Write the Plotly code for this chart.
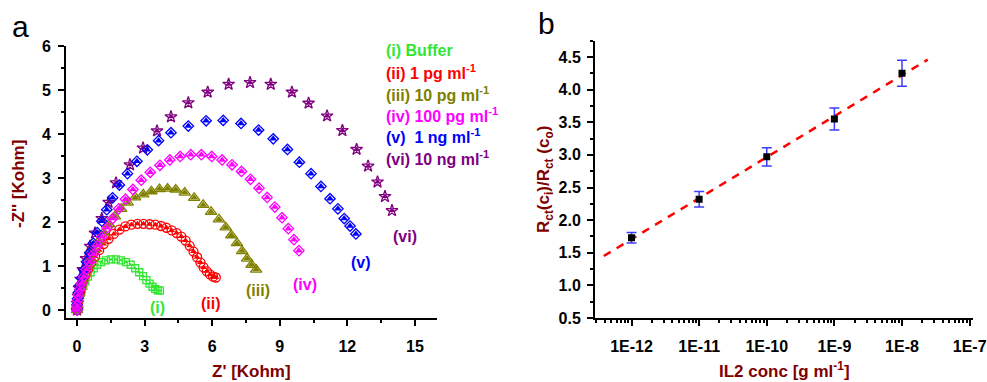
import plotly.graph_objects as go

# ---------------- Panel a : Nyquist data (Z' , -Z'') in kOhm ----------------
buf_x = [0, 0.02, 0.05, 0.09, 0.14, 0.2, 0.28, 0.37, 0.48, 0.6, 0.74, 0.9, 1.08, 1.28, 1.5, 1.72,
         1.95, 2.17, 2.38, 2.58, 2.76, 2.93, 3.08, 3.22, 3.35, 3.47, 3.58, 3.68]
buf_y = [0, 0.08, 0.17, 0.26, 0.35, 0.45, 0.55, 0.65, 0.76, 0.86, 0.95, 1.03, 1.09, 1.13, 1.15, 1.15,
         1.13, 1.09, 1.03, 0.95, 0.86, 0.77, 0.68, 0.6, 0.53, 0.48, 0.45, 0.44]

p1_x = [0, 0.02, 0.05, 0.09, 0.14, 0.2, 0.28, 0.38, 0.5, 0.64, 0.8, 0.98, 1.18, 1.4, 1.63, 1.88,
        2.14, 2.41, 2.68, 2.95, 3.22, 3.48, 3.73, 3.97, 4.2, 4.42, 4.63, 4.82, 5.0, 5.17, 5.33,
        5.48, 5.62, 5.76, 5.9, 6.04, 6.16]
p1_y = [0, 0.1, 0.2, 0.31, 0.42, 0.54, 0.67, 0.8, 0.94, 1.08, 1.22, 1.36, 1.5, 1.62, 1.73, 1.83,
        1.9, 1.94, 1.96, 1.96, 1.95, 1.94, 1.91, 1.87, 1.81, 1.75, 1.67, 1.58, 1.46, 1.33, 1.2,
        1.08, 0.97, 0.88, 0.81, 0.76, 0.74]

p10_x = [0, 0.02, 0.05, 0.1, 0.16, 0.24, 0.34, 0.46, 0.6, 0.77, 0.96, 1.18, 1.42, 1.68, 1.96,
         2.25, 2.58, 2.94, 3.3, 3.66, 4.02, 4.38, 4.78, 5.2, 5.6, 5.95, 6.3, 6.6, 6.85, 7.1,
         7.33, 7.55, 7.75, 7.95]
p10_y = [0, 0.12, 0.25, 0.38, 0.52, 0.67, 0.83, 1.0, 1.18, 1.37, 1.56, 1.76, 1.95, 2.13, 2.3,
         2.44, 2.56, 2.63, 2.7, 2.75, 2.76, 2.74, 2.67, 2.55, 2.39, 2.23, 2.06, 1.88, 1.7, 1.52,
         1.34, 1.17, 1.03, 0.92]

p100_x = [0, 0.0, 0.02, 0.06, 0.12, 0.2, 0.3, 0.42, 0.56, 0.72, 0.9, 1.1, 1.33, 1.58, 1.85, 2.15,
          2.48, 2.85, 3.25, 3.68, 4.12, 4.58, 5.05, 5.52, 5.98, 6.44, 6.88, 7.3, 7.7, 8.08, 8.44,
          8.78, 9.1, 9.38, 9.63, 9.85]
p100_y = [0, 0.1, 0.22, 0.34, 0.47, 0.61, 0.76, 0.92, 1.09, 1.27, 1.46, 1.66, 1.87, 2.08, 2.3, 2.52,
          2.74, 2.95, 3.13, 3.29, 3.41, 3.49, 3.53, 3.53, 3.49, 3.41, 3.3, 3.15, 2.97, 2.77, 2.56,
          2.34, 2.1, 1.85, 1.6, 1.35]

n1_x = [0, 0.0, 0.02, 0.06, 0.12, 0.2, 0.3, 0.42, 0.56, 0.72, 0.9, 1.1, 1.32, 1.58, 1.88, 2.24,
        2.66, 3.12, 3.62, 4.17, 4.94, 5.73, 6.49, 7.28, 8.06, 8.71, 9.34, 9.87, 10.39, 10.83,
        11.23, 11.58, 11.86, 12.12, 12.38]
n1_y = [0, 0.12, 0.26, 0.4, 0.56, 0.73, 0.91, 1.1, 1.3, 1.52, 1.76, 2.02, 2.28, 2.55, 2.84, 3.1,
        3.38, 3.64, 3.85, 4.03, 4.18, 4.3, 4.31, 4.24, 4.09, 3.89, 3.65, 3.36, 3.1, 2.81,
        2.53, 2.3, 2.08, 1.91, 1.73]

n10_x = [0, 0.01, 0.04, 0.09, 0.16, 0.26, 0.4, 0.58, 0.8, 1.1, 1.4, 1.73, 2.35, 2.93, 3.55, 4.17,
         4.94, 5.8, 6.73, 7.68, 8.6, 9.54, 10.28, 11.1, 11.78, 12.41, 12.92, 13.34, 13.67, 13.98]
n10_y = [0, 0.15, 0.32, 0.5, 0.7, 0.92, 1.17, 1.45, 1.75, 2.08, 2.45, 2.89, 3.3, 3.68, 4.07, 4.39,
         4.71, 4.95, 5.13, 5.17, 5.13, 4.95, 4.7, 4.41, 4.08, 3.65, 3.27, 2.91, 2.58, 2.26]

legend_labels = ["(i) Buffer", "(ii) 1 pg ml<sup>-1</sup>", "(iii) 10 pg ml<sup>-1</sup>",
                 "(iv) 100 pg ml<sup>-1</sup>", "(v)  1 ng ml<sup>-1</sup>", "(vi) 10 ng ml<sup>-1</sup>"]
curve_tags = ["(i)", "(ii)", "(iii)", "(iv)", "(v)", "(vi)"]
tag_x = [3.55, 5.95, 8.03, 10.12, 12.6, 14.56]
tag_y = [0.07, 0.14, 0.45, 0.57, 1.09, 1.68]

# ---------------- Panel b : calibration ----------------
conc = [1e-12, 1e-11, 1e-10, 1e-9, 1e-8]
ratio = [1.73, 2.32, 2.97, 3.55, 4.25]
ratio_err = [0.08, 0.12, 0.14, 0.17, 0.2]
fit_x = [10 ** -12.41, 10 ** -7.62]
fit_y = [1.45, 4.46]
b_tickvals = [1e-12, 1e-11, 1e-10, 1e-9, 1e-8, 1e-7]
b_ticktext = ["1E-12", "1E-11", "1E-10", "1E-9", "1E-8", "1E-7"]
b_minor = [k * 10.0 ** e for e in range(-13, -7) for k in range(2, 10)]

FONT = "Liberation Sans, Arial, sans-serif"
GREEN, RED, OLIVE, MAG, BLUE, PURP = "#33e633", "#ff0000", "#808000", "#ff00ff", "#0000ff", "#800080"
DARKRED = "#800000"

fig = go.Figure()

series = [
    (n10_x, n10_y, PURP, "star", 9, 6),
    (buf_x, buf_y, GREEN, "square", 7, 4),
    (p1_x, p1_y, RED, "circle", 9, 6),
    (p10_x, p10_y, OLIVE, "triangle-up", 10, 7),
    (n1_x, n1_y, BLUE, "diamond", 8, 7),
    (p100_x, p100_y, MAG, "diamond", 8, 7),
]
for xs, ys, col, sym, sz, insz in series:
    fig.add_trace(go.Scatter(x=xs, y=ys, mode="markers", xaxis="x", yaxis="y",
                             marker=dict(symbol=sym + "-open", size=sz, color=col,
                                         line=dict(width=1.3, color=col)),
                             showlegend=False, hoverinfo="skip"))
    fig.add_trace(go.Scatter(x=xs, y=ys, mode="markers", xaxis="x", yaxis="y",
                             marker=dict(symbol="triangle-up", size=insz, color=col,
                                         line=dict(width=0)),
                             showlegend=False, hoverinfo="skip"))

# panel b traces
fig.add_trace(go.Scatter(x=fit_x, y=fit_y, mode="lines", xaxis="x2", yaxis="y2",
                         line=dict(color="#ff0000", width=2.5, dash="8px,7px"),
                         showlegend=False))
fig.add_trace(go.Scatter(x=conc, y=ratio, mode="markers", xaxis="x2", yaxis="y2",
                         marker=dict(symbol="square", size=7, color="black"),
                         error_y=dict(type="data", array=ratio_err, color="#3d3dff",
                                      thickness=1.5, width=5),
                         showlegend=False))

axis_common = dict(showline=True, linecolor="black", linewidth=2, ticks="outside",
                   ticklen=6, tickwidth=2, tickcolor="black", showgrid=False, zeroline=False,
                   tickfont=dict(family=FONT, size=16, color="black", weight="bold"),
                   mirror=False, automargin=False)

fig.update_layout(
    width=987, height=382, margin=dict(l=0, r=0, t=0, b=0, autoexpand=False),
    paper_bgcolor="white", plot_bgcolor="white",
    xaxis=dict(domain=[66 / 987, 437 / 987], range=[-0.49, 15.98], tickmode="linear",
               tick0=0, dtick=3, anchor="y", ticklabelstandoff=7,
               minor=dict(ticks="outside", ticklen=3, tickwidth=1.5, tickcolor="black", dtick=1.5, tick0=0),
               **axis_common),
    yaxis=dict(domain=[1 - 318 / 382, 1 - 46 / 382], range=[-0.18, 6], tickmode="linear",
               tick0=0, dtick=1, anchor="x", ticklabelstandoff=4,
               minor=dict(ticks="outside", ticklen=3, tickwidth=1.5, tickcolor="black", dtick=0.5, tick0=0),
               **axis_common),
    xaxis2=dict(domain=[595 / 987, 973 / 987], type="log", range=[-12.54, -6.95],
                tickmode="array", tickvals=b_tickvals, ticktext=b_ticktext, anchor="y2",
                ticklabelstandoff=7,
                minor=dict(ticks="outside", ticklen=3, tickwidth=1.5, tickcolor="black",
                           tickmode="array", tickvals=b_minor),
                **axis_common),
    yaxis2=dict(domain=[1 - 318 / 382, 1 - 40.7 / 382], range=[0.5, 4.75], tickmode="linear",
                tick0=0.5, dtick=0.5, anchor="x2", ticklabelstandoff=3, tickformat=".1f",
                minor=dict(ticks="outside", ticklen=3, tickwidth=1.5, tickcolor="black", dtick=0.25, tick0=0.5),
                **axis_common),
)

ann = []
legend_colors = [GREEN, RED, OLIVE, MAG, BLUE, PURP]
for i, (lab, col) in enumerate(zip(legend_labels, legend_colors)):
    ann.append(dict(text=lab, xref="paper", yref="paper", x=384 / 987, y=1 - (51 + 21.3 * i) / 382,
                    xanchor="left", yanchor="middle", showarrow=False,
                    font=dict(family=FONT, size=16, color=col, weight="bold")))
for tag, tx, ty, col in zip(curve_tags, tag_x, tag_y, legend_colors):
    ann.append(dict(text=tag, xref="x", yref="y", x=tx, y=ty, xanchor="center", yanchor="middle",
                    showarrow=False, font=dict(family=FONT, size=16, color=col, weight="bold")))

ann += [
    dict(text="-Z'' [Kohm]", xref="paper", yref="paper", x=18 / 987, y=1 - 184 / 382,
         textangle=-90, showarrow=False, xanchor="center", yanchor="middle",
         font=dict(family=FONT, size=17, color=DARKRED, weight="bold")),
    dict(text="Z' [Kohm]", xref="paper", yref="paper", x=251 / 987, y=1 - 371 / 382,
         showarrow=False, xanchor="center", yanchor="middle",
         font=dict(family=FONT, size=17, color=DARKRED, weight="bold")),
    dict(text="R<sub>ct</sub>(c<sub>i</sub>)/R<sub>ct</sub> (c<sub>o</sub>)", xref="paper", yref="paper",
         x=545 / 987, y=1 - 180 / 382, textangle=-90, showarrow=False, xanchor="center", yanchor="middle",
         font=dict(family=FONT, size=17, color=DARKRED, weight="bold")),
    dict(text="IL2 conc [g ml<sup>-1</sup>]", xref="paper", yref="paper", x=784 / 987, y=1 - 370 / 382,
         showarrow=False, xanchor="center", yanchor="middle",
         font=dict(family=FONT, size=17, color=DARKRED, weight="bold")),
    dict(text="a", xref="paper", yref="paper", x=20 / 987, y=1 - 27 / 382, showarrow=False,
         xanchor="center", yanchor="middle", font=dict(family=FONT, size=30, color="black")),
    dict(text="b", xref="paper", yref="paper", x=546 / 987, y=1 - 24 / 382, showarrow=False,
         xanchor="center", yanchor="middle", font=dict(family=FONT, size=30, color="black")),
]
fig.update_layout(annotations=ann)

fig.write_html("out.html")
